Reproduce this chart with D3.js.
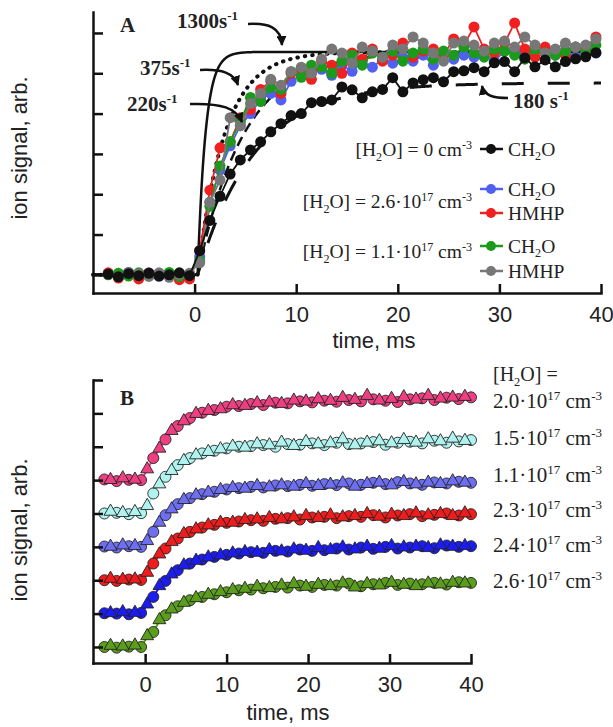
<!DOCTYPE html>
<meta charset="utf-8">
<style>
    body { margin: 0; background: #fff; }
    .axis path, .axis line { stroke: #111; stroke-width: 2.5px; }
    .axis text { font: 22px "Liberation Sans", Arial, sans-serif; fill: #222; }
    .axisLabel { font: 22px "Liberation Sans", Arial, sans-serif; fill: #222; text-anchor: middle; }
    .serif { font-family: "Liberation Serif", "Times New Roman", serif; fill: #222; }
</style>
<body>
<script src="https://d3js.org/d3.v7.min.js"></script>
<script>
    // ---------- panel A data (signal in arb. units, 0 = baseline) ----------
    let timeA = d3.range(-8.5, 40, 1);   // 49 sample times, ms

    let blackCH2O = [0.02,-0.05,0.03,-0.02,0.04,-0.03,0.0,0.05,-0.02,
        0.6,1.35,1.95,2.5,2.85,3.1,3.3,3.55,3.75,3.95,
        4.0,4.27,4.3,4.34,4.66,4.59,4.39,4.54,4.6,4.89,
        4.54,4.76,4.84,4.89,4.79,5.04,5.06,5.14,5.04,5.26,
        5.29,5.04,5.38,5.16,5.33,5.16,5.29,5.36,5.41,5.51];
    let blueCH2O = [0.03,-0.04,0.06,0.0,0.05,-0.03,0.02,-0.05,0.01,
        0.45,1.8,2.6,3.2,3.7,4.0,4.35,4.5,4.34,4.8,
        4.95,5.0,5.1,4.95,5.2,5.05,5.3,5.15,5.35,5.25,
        5.4,5.3,5.45,5.2,5.5,5.35,5.45,5.4,5.5,5.3,
        5.55,5.6,5.45,5.65,5.5,5.45,5.55,5.4,5.6,5.5];
    let redHMHP = [0.05,-0.08,-0.02,-0.1,0.04,0.0,0.03,-0.12,-0.1,
        0.6,2.1,3.15,3.3,3.9,4.1,4.6,4.8,4.5,5.0,
        5.1,4.85,5.3,5.2,5.0,5.5,5.35,5.6,5.3,5.45,
        5.75,5.4,5.55,5.6,5.45,5.85,5.7,6.15,5.6,5.5,
        5.75,6.25,5.6,5.4,5.65,5.55,5.45,5.65,5.6,5.9];
    let greenCH2O = [0.0,0.04,-0.03,0.05,-0.02,0.03,0.06,-0.04,0.02,
        0.35,1.7,2.7,3.3,3.8,4.4,4.3,4.65,4.6,5.04,
        4.9,5.2,5.15,5.0,5.3,5.45,5.2,5.5,5.4,5.55,
        5.3,5.5,5.6,5.35,5.55,5.45,5.65,5.5,5.4,5.6,
        5.55,5.45,5.35,5.6,5.5,5.45,5.55,5.65,5.5,5.7];
    let grayHMHP = [0.02,-0.05,0.06,0.03,-0.04,0.05,-0.06,0.01,0.04,
        0.3,1.8,2.35,3.9,3.7,4.25,4.5,4.85,4.7,5.04,
        5.15,5.0,5.35,5.6,5.5,5.25,5.65,5.55,5.4,5.7,
        5.6,5.9,5.75,5.5,5.3,5.75,5.8,5.7,5.55,5.75,
        5.8,5.65,5.9,5.7,5.5,5.6,5.75,5.65,5.7,5.85];

    // first-order fits: rate (s^-1) and plateau, onset at 0.3 ms
    let fitRates = [1300, 375, 220, 180];
    let fitPlateaus = [5.53, 5.53, 5.53, 4.76];
    let fitOnset = 0.3;

    let ticksA_x = [0, 10, 20, 30, 40];
    let ticksA_y = [0, 1, 2, 3, 4, 5, 6];

    // ---------- panel B data ----------
    let timeCirc = d3.range(-5, 40.01, 1.5);   // 31 points
    let timeTri = d3.range(-4.25, 39.3, 1.5);  // 30 points
    let labelsB = ["2.0", "1.5", "1.1", "2.3", "2.4", "2.6"];
    let offsetsB = [5, 4, 3, 2, 1, 0];

    let circB = [
        [0.02,-0.03,0.01,0.0, 0.66,1.22,1.62,1.86,2.02,2.1,2.2,2.22,2.28,2.25, 2.32,2.3,2.36,2.33,2.38,2.35,2.4,2.36,2.42,2.38, 2.34,2.42,2.45,2.4,2.47,2.43,2.48],
        [0.0,0.02,-0.02,0.01, 0.6,1.1,1.45,1.66,1.8,1.88,1.95,2.0,2.02,2.05, 2.0,2.08,2.06,2.1,2.05,2.12,2.08,2.1,2.14,2.06, 2.12,2.15,2.1,2.18,2.12,2.16,2.2],
        [0.01,-0.02,0.02,0.0, 0.45,0.95,1.28,1.46,1.58,1.65,1.72,1.76,1.8,1.78, 1.84,1.82,1.86,1.83,1.88,1.85,1.9,1.86,1.92,1.88, 1.94,1.9,1.86,1.93,1.9,1.95,1.92],
        [0.0,-0.02,0.02,0.01, 0.5,0.95,1.25,1.45,1.58,1.66,1.72,1.76,1.8,1.78, 1.84,1.86,1.82,1.88,1.9,1.86,1.92,1.9,1.95,1.88, 1.94,1.98,1.92,1.96,2.0,1.94,1.98],
        [0.01,0.0,-0.02,0.02, 0.5,0.98,1.3,1.5,1.62,1.7,1.76,1.8,1.84,1.82, 1.88,1.86,1.92,1.88,1.9,1.95,1.92,1.98,1.94,2.0, 1.95,1.98,2.02,1.96,2.04,2.0,2.02],
        [0.0,-0.02,0.01,0.0, 0.45,0.95,1.22,1.4,1.5,1.58,1.64,1.7,1.72,1.76, 1.8,1.78,1.84,1.8,1.86,1.84,1.9,1.82,1.88,1.92, 1.86,1.9,1.88,1.92,1.87,1.94,1.92]
    ];
    let triB = [
        [-0.02,0.03,-0.01, 0.3,0.92,1.45,1.74,1.96,2.05,2.1,2.22,2.2,2.28, 2.3,2.26,2.36,2.33,2.4,2.35,2.44,2.38,2.5,2.36, 2.41,2.46,2.39,2.5,2.42,2.45,2.47],
        [0.03,-0.01,0.02, 0.2,0.85,1.25,1.55,1.72,1.82,1.9,1.98,1.95,2.05, 2.02,2.1,2.0,2.12,2.05,2.08,2.2,2.02,2.1,2.14, 2.08,2.18,2.1,2.2,2.14,2.22,2.15],
        [-0.02,0.02,0.0, 0.15,0.7,1.1,1.38,1.52,1.6,1.68,1.74,1.72,1.8, 1.76,1.82,1.78,1.86,1.8,1.84,1.88,1.78,1.86,1.9, 1.82,1.92,1.85,1.9,1.86,1.94,1.9],
        [0.02,-0.01,0.0, 0.2,0.75,1.12,1.36,1.5,1.62,1.7,1.7,1.78,1.8, 1.84,1.8,1.86,1.9,1.84,1.92,1.86,1.9,1.96,1.88, 1.94,1.9,1.98,1.92,1.96,1.9,1.98],
        [-0.01,0.02,0.0, 0.25,0.8,1.15,1.42,1.56,1.66,1.72,1.78,1.82,1.8, 1.88,1.84,1.9,1.86,1.94,1.88,1.96,1.9,1.98,1.92, 2.0,1.96,1.98,1.94,2.02,1.98,2.0],
        [0.01,-0.01,0.02, 0.3,0.78,1.1,1.3,1.44,1.54,1.62,1.68,1.72,1.78, 1.74,1.82,1.86,1.78,1.84,1.8,1.88,1.76,1.86,1.82, 1.9,1.84,1.8,1.88,1.85,1.9,1.88]
    ];
    let ticksB_x = [0, 10, 20, 30, 40];
    let ticksB_y = [0, 1, 2, 3, 4, 5, 6, 7, 8];

    let colorsB = ["#ee3f82", "#b0f3ee", "#6e6ef0", "#ee1c1c", "#1c1cf0", "#5b9e1c"];

    // ---------- svg ----------
    let svg = d3.select("body").append("svg")
        .attr("width", 613)
        .attr("height", 727);

    svg.append("defs").append("marker")
        .attr("id", "arrow")
        .attr("viewBox", "0 0 10 10")
        .attr("refX", 9).attr("refY", 5)
        .attr("markerWidth", 4).attr("markerHeight", 4)
        .attr("markerUnits", "strokeWidth")
        .attr("orient", "auto")
        .append("path")
            .attr("d", "M0,0 L10,5 L0,10 z")
            .attr("fill", "#111");

    // write text with sub/superscript parts: [text, ""|"sub"|"sup"]
    function richText(sel, parts, size) {
        let shift = 0;
        parts.forEach(function(p) {
            let target = p[1] === "sub" ? 0.25 * size : (p[1] === "sup" ? -0.36 * size : 0);
            sel.append("tspan")
                .attr("dy", target - shift)
                .style("font-size", (p[1] ? 0.62 * size : size) + "px")
                .text(p[0]);
            shift = target;
        });
        return sel;
    }

    function drawAxes(g, x, y, xTicks, yTicks) {
        g.append("g")
            .attr("class", "axis")
            .attr("transform", "translate(0," + y.range()[0] + ")")
            .call(d3.axisBottom(x).tickValues(xTicks).tickSizeInner(-9).tickSizeOuter(0).tickPadding(13));
        g.append("g")
            .attr("class", "axis")
            .attr("transform", "translate(" + x.range()[0] + ",0)")
            .call(d3.axisLeft(y).tickValues(yTicks).tickSizeInner(-10).tickSizeOuter(0).tickFormat(""));
        g.selectAll(".axis path").attr("stroke-linecap", "square");
    }

    // ================= panel A =================
    let gA = svg.append("g");
    let xA = d3.scaleLinear().domain([-10, 40]).range([93, 601]);
    let yA = d3.scaleLinear().domain([-0.45, 6.52]).range([293, 12]);

    // fit curves
    let fitGrid = d3.range(-10, 40.01, 0.05);
    let fitStyles = [
        {dash: null, width: 2.5, cap: "butt"},
        {dash: "0.5,7", width: 4, cap: "round"},
        {dash: "10,6", width: 2.5, cap: "butt"},
        {dash: "22,24", width: 3, cap: "butt"}
    ];
    fitRates.forEach(function(k, i) {
        let kms = k / 1000;
        let line = d3.line()
            .x(function(t) { return xA(t); })
            .y(function(t) {
                let dt = t - fitOnset;
                return yA(dt < 0 ? 0 : fitPlateaus[i] * (1 - Math.exp(-kms * dt)));
            });
        gA.append("path")
            .attr("d", line(fitGrid))
            .attr("fill", "none")
            .attr("stroke", "#111")
            .attr("stroke-width", fitStyles[i].width)
            .attr("stroke-linecap", fitStyles[i].cap)
            .attr("stroke-dasharray", fitStyles[i].dash);
    });

    let seriesA = [
        {values: blueCH2O, color: "#5060f0"},
        {values: redHMHP, color: "#f02020"},
        {values: greenCH2O, color: "#1c9a1c"},
        {values: grayHMHP, color: "#777777"},
        {values: blackCH2O, color: "#111111"}
    ];
    let lineA = d3.line()
        .x(function(d) { return xA(d[0]); })
        .y(function(d) { return yA(d[1]); });
    seriesA.forEach(function(s) {
        let pts = timeA.map(function(t, i) { return [t, s.values[i]]; });
        let g = gA.append("g");
        g.append("path")
            .attr("d", lineA(pts))
            .attr("fill", "none")
            .attr("stroke", s.color)
            .attr("stroke-width", 1.8);
        g.selectAll("circle")
            .data(pts)
            .join("circle")
                .attr("cx", function(d) { return xA(d[0]); })
                .attr("cy", function(d) { return yA(d[1]); })
                .attr("r", 5.5)
                .attr("fill", s.color);
    });

    drawAxes(gA, xA, yA, ticksA_x, ticksA_y);

    gA.append("text").attr("class", "axisLabel")
        .attr("transform", "translate(27,148) rotate(-90)")
        .text("ion signal, arb.");
    gA.append("text").attr("class", "axisLabel")
        .attr("x", 374).attr("y", 348)
        .text("time, ms");

    gA.append("text").attr("class", "serif")
        .attr("x", 120).attr("y", 32)
        .style("font-size", "21px").style("font-weight", "bold")
        .text("A");

    // rate annotations
    let notes = [
        {parts: [["1300s", ""], ["-1", "sup"]], x: 177, y: 28, arrow: "M248,24 C268,23 281,27 282,45"},
        {parts: [["375s", ""], ["-1", "sup"]], x: 140, y: 75, arrow: "M200,70 C222,69 234,73 238,85"},
        {parts: [["220s", ""], ["-1", "sup"]], x: 127, y: 111, arrow: "M190,104 C222,103 236,108 242,122"},
        {parts: [["180 s", ""], ["-1", "sup"]], x: 513, y: 108, arrow: "M508,98 C494,98 484,96 482,86"}
    ];
    notes.forEach(function(n) {
        richText(gA.append("text").attr("class", "serif")
            .attr("x", n.x).attr("y", n.y)
            .style("font-weight", "bold"), n.parts, 21);
        gA.append("path")
            .attr("d", n.arrow)
            .attr("fill", "none")
            .attr("stroke", "#111")
            .attr("stroke-width", 2.5)
            .attr("marker-end", "url(#arrow)");
    });

    // legend
    let legendSize = 19.5;
    let legendGroups = [
        {parts: [["[H", ""], ["2", "sub"], ["O] = 0 cm", ""], ["-3", "sup"]], y: 156},
        {parts: [["[H", ""], ["2", "sub"], ["O] = 2.6·10", ""], ["17", "sup"], [" cm", ""], ["-3", "sup"]], y: 208},
        {parts: [["[H", ""], ["2", "sub"], ["O] = 1.1·10", ""], ["17", "sup"], [" cm", ""], ["-3", "sup"]], y: 258}
    ];
    legendGroups.forEach(function(l) {
        richText(gA.append("text").attr("class", "serif")
            .attr("x", 472).attr("y", l.y)
            .attr("text-anchor", "end"), l.parts, legendSize);
    });
    let legendItems = [
        {color: "#111111", y: 149, name: "CH2O"},
        {color: "#5060f0", y: 189, name: "CH2O"},
        {color: "#f02020", y: 213, name: "HMHP"},
        {color: "#1c9a1c", y: 246, name: "CH2O"},
        {color: "#777777", y: 271, name: "HMHP"}
    ];
    legendItems.forEach(function(l) {
        gA.append("line")
            .attr("x1", 480).attr("x2", 503)
            .attr("y1", l.y).attr("y2", l.y)
            .attr("stroke", l.color).attr("stroke-width", 2.5);
        gA.append("circle")
            .attr("cx", 491).attr("cy", l.y).attr("r", 5)
            .attr("fill", l.color);
        let t = gA.append("text").attr("class", "serif")
            .attr("x", 508).attr("y", l.y + 6.5);
        if (l.name === "CH2O") {
            richText(t, [["CH", ""], ["2", "sub"], ["O", ""]], legendSize);
        } else {
            richText(t, [["HMHP", ""]], legendSize);
        }
    });

    // ================= panel B =================
    let gB = svg.append("g");
    let xB = d3.scaleLinear().domain([-6.4, 40]).range([93, 471]);
    let yB = d3.scaleLinear().domain([-0.48, 8]).range([663, 380]);
    let tri = d3.symbol().type(d3.symbolTriangle).size(72);

    let lineB = d3.line()
        .x(function(d) { return xB(d[0]); })
        .y(function(d) { return yB(d[1]); });

    labelsB.forEach(function(lab, i) {
        let off = offsetsB[i];
        let circPts = timeCirc.map(function(t, j) { return [t, off + circB[i][j]]; });
        let triPts = timeTri.map(function(t, j) { return [t, off + triB[i][j]]; });
        let allPts = circPts.concat(triPts).sort(function(a, b) { return a[0] - b[0]; });
        let g = gB.append("g");
        g.append("path")
            .attr("d", lineB(allPts))
            .attr("fill", "none")
            .attr("stroke", colorsB[i])
            .attr("stroke-width", 2);
        g.selectAll("circle")
            .data(circPts)
            .join("circle")
                .attr("cx", function(d) { return xB(d[0]); })
                .attr("cy", function(d) { return yB(d[1]); })
                .attr("r", 5.5)
                .attr("fill", colorsB[i])
                .attr("stroke", "#222")
                .attr("stroke-width", 0.9);
        g.selectAll("path.tri")
            .data(triPts)
            .join("path")
                .attr("class", "tri")
                .attr("d", tri)
                .attr("transform", function(d) { return "translate(" + xB(d[0]) + "," + (yB(d[1]) - 1) + ")"; })
                .attr("fill", colorsB[i])
                .attr("stroke", "#222")
                .attr("stroke-width", 0.9);
    });

    drawAxes(gB, xB, yB, ticksB_x, ticksB_y);

    gB.append("text").attr("class", "axisLabel")
        .attr("transform", "translate(27,530) rotate(-90)")
        .text("ion signal, arb.");
    gB.append("text").attr("class", "axisLabel")
        .attr("x", 288).attr("y", 720)
        .text("time, ms");

    gB.append("text").attr("class", "serif")
        .attr("x", 120).attr("y", 405)
        .style("font-size", "21px").style("font-weight", "bold")
        .text("B");

    richText(gB.append("text").attr("class", "serif").attr("x", 493).attr("y", 381),
        [["[H", ""], ["2", "sub"], ["O] =", ""]], 20);
    let labelYs = [408, 445, 482, 517, 552, 588];
    labelsB.forEach(function(lab, i) {
        richText(gB.append("text").attr("class", "serif").attr("x", 493).attr("y", labelYs[i]),
            [[lab + "·10", ""], ["17", "sup"], [" cm", ""], ["-3", "sup"]], 21);
    });
</script>
</body>
